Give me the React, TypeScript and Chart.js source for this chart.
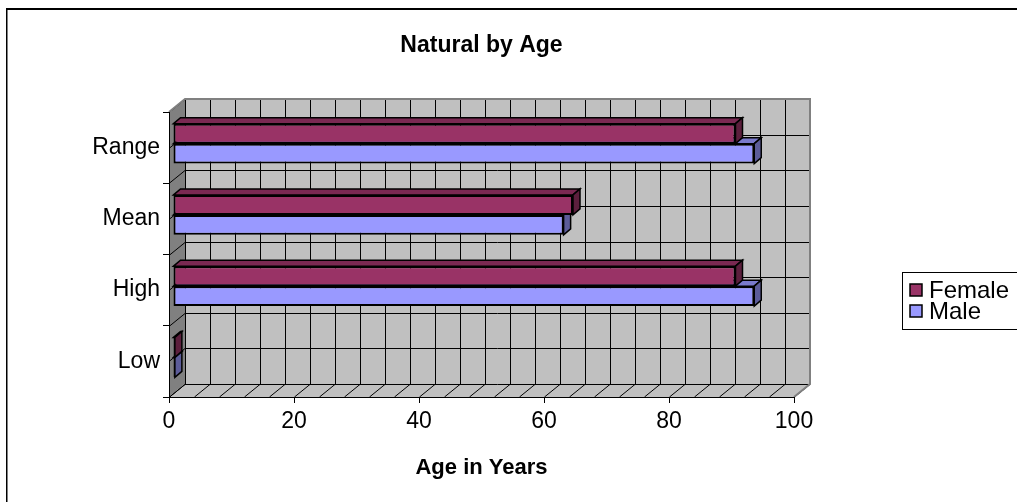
import React, { useEffect, useRef } from "react";
import { Chart, registerables } from "chart.js";

Chart.register(...registerables);

const categories = ["Range", "Mean", "High", "Low"];
const femaleValues = [90, 64, 90, 0.3];
const maleValues = [93, 62.5, 93, 0.3];
const seriesNames = ["Female", "Male"];
const seriesColors = ["#993366", "#9999FF"];
const topColors = ["#7A2952", "#7A7ACC"];
const sideColors = ["#5C1F3D", "#5C5C99"];
const xMin = 0;
const xMax = 100;
const xTickStep = 20;
const gridStep = 4;

const FONT = "'Liberation Sans', Arial, Helvetica, sans-serif";

// wall depth and bar placement inside the depth
const DX = 16;
const DY = -13;
const BX = 4;
const BY = -4;
const BDX = 7;
const BDY = -6;

function poly(ctx: CanvasRenderingContext2D, pts: number[][]) {
  ctx.beginPath();
  ctx.moveTo(pts[0][0], pts[0][1]);
  for (let i = 1; i < pts.length; i++) ctx.lineTo(pts[i][0], pts[i][1]);
  ctx.closePath();
}

function line(ctx: CanvasRenderingContext2D, x1: number, y1: number, x2: number, y2: number) {
  ctx.beginPath();
  ctx.moveTo(x1, y1);
  ctx.lineTo(x2, y2);
  ctx.stroke();
}

const excel3d = {
  id: "excel3d",
  beforeDraw(chart: any) {
    const { ctx, chartArea: a, scales } = chart;
    const xs = scales.x;
    const ys = scales.y;
    ctx.save();
    // outer frame
    ctx.fillStyle = "#000";
    ctx.fillRect(6, 8, 1011, 2);
    ctx.fillRect(6, 8, 1.5, 494);

    // left wall
    ctx.fillStyle = "#808080";
    poly(ctx, [
      [a.left, a.top],
      [a.left + DX, a.top + DY],
      [a.left + DX, a.bottom + DY],
      [a.left, a.bottom],
    ]);
    ctx.fill();
    // floor
    ctx.fillStyle = "#C0C0C0";
    poly(ctx, [
      [a.left, a.bottom],
      [a.left + DX, a.bottom + DY],
      [a.right + DX, a.bottom + DY],
      [a.right, a.bottom],
    ]);
    ctx.fill();
    // back wall
    ctx.fillStyle = "#C0C0C0";
    ctx.fillRect(a.left + DX, a.top + DY, a.right - a.left, a.bottom - a.top);

    ctx.strokeStyle = "#000";
    ctx.lineWidth = 1;
    // vertical gridlines on back wall + floor diagonals
    for (let v = xMin; v <= xMax; v += gridStep) {
      const px = Math.round(xs.getPixelForValue(v)) + 0.5;
      line(ctx, px + DX, a.top + DY, px + DX, a.bottom + DY);
      line(ctx, px, a.bottom, px + DX, a.bottom + DY);
    }
    // horizontal gridlines (every half category) + left wall diagonals
    const band = Math.abs(ys.getPixelForValue(1) - ys.getPixelForValue(0));
    const ypos: number[] = [];
    for (let i = 0; i < categories.length; i++) {
      const c = ys.getPixelForValue(i);
      ypos.push(c - band / 2, c);
    }
    ypos.push(ys.getPixelForValue(categories.length - 1) + band / 2);
    for (const yy of ypos) {
      const py = Math.round(yy) + 0.5;
      line(ctx, a.left + DX, py + DY, a.right + DX, py + DY);
      line(ctx, a.left, py, a.left + DX, py + DY);
    }
    // wall borders (gray)
    ctx.strokeStyle = "#808080";
    ctx.lineWidth = 2;
    ctx.beginPath();
    ctx.moveTo(a.left, a.top);
    ctx.lineTo(a.left + DX, a.top + DY);
    ctx.lineTo(a.right + DX, a.top + DY);
    ctx.lineTo(a.right + DX, a.bottom + DY);
    ctx.lineTo(a.right, a.bottom);
    ctx.stroke();
    ctx.restore();
  },
  beforeDatasetsDraw(chart: any) {
    const { ctx } = chart;
    ctx.save();
    ctx.translate(BX, BY);
    for (let d = chart.data.datasets.length - 1; d >= 0; d--) {
      const meta = chart.getDatasetMeta(d);
      meta.data.forEach((el: any) => {
        const p = el.getProps(["x", "y", "base", "height"], true);
        const left = Math.min(p.base, p.x);
        const right = Math.max(p.base, p.x);
        const top = p.y - p.height / 2;
        const bottom = p.y + p.height / 2;
        ctx.lineWidth = 1.5;
        ctx.strokeStyle = "#000";
        ctx.fillStyle = topColors[d];
        poly(ctx, [
          [left, top],
          [left + BDX, top + BDY],
          [right + BDX, top + BDY],
          [right, top],
        ]);
        ctx.fill();
        ctx.stroke();
        ctx.fillStyle = sideColors[d];
        poly(ctx, [
          [right, top],
          [right + BDX, top + BDY],
          [right + BDX, bottom + BDY],
          [right, bottom],
        ]);
        ctx.fill();
        ctx.stroke();
      });
    }
  },
  afterDatasetsDraw(chart: any) {
    chart.ctx.restore();
  },
  afterDraw(chart: any) {
    const { ctx } = chart;
    ctx.save();
    // legend
    const lx = 902;
    const ly = 272;
    ctx.strokeStyle = "#000";
    ctx.lineWidth = 1;
    ctx.strokeRect(lx + 0.5, ly + 0.5, 200, 57);
    ctx.font = `24px ${FONT}`;
    ctx.textBaseline = "middle";
    ctx.textAlign = "left";
    seriesNames.forEach((name, i) => {
      const cy = 290 + i * 21;
      ctx.fillStyle = seriesColors[i];
      ctx.fillRect(910, cy - 6, 12, 12);
      ctx.lineWidth = 1.5;
      ctx.strokeRect(910, cy - 6, 12, 12);
      ctx.fillStyle = "#000";
      ctx.fillText(name, 929, cy + 1);
    });
    ctx.restore();
  },
};

export default function App() {
  const ref = useRef<HTMLCanvasElement>(null);
  useEffect(() => {
    const canvas = ref.current!;
    Chart.defaults.font.family = FONT;
    Chart.defaults.color = "#000";
    const chart = new Chart(canvas, {
      type: "bar",
      data: {
        labels: categories,
        datasets: seriesNames.map((name, i) => ({
          label: name,
          data: i === 0 ? femaleValues : maleValues,
          backgroundColor: seriesColors[i],
          borderColor: "#000",
          borderWidth: 2,
          borderSkipped: false,
          categoryPercentage: 0.5614,
          barPercentage: 1,
          clip: false as any,
        })),
      },
      options: {
        indexAxis: "y",
        responsive: false,
        maintainAspectRatio: false,
        animation: false,
        devicePixelRatio: 1,
        layout: { padding: { left: 0, right: 223, top: 0, bottom: 0 } },
        plugins: {
          legend: { display: false },
          tooltip: { enabled: false },
          title: {
            display: true,
            text: "Natural by Age",
            fullSize: false,
            color: "#000",
            font: { size: 23, weight: "bold", family: FONT },
            padding: { top: 32, bottom: 52.4 },
          },
        },
        scales: {
          x: {
            type: "linear",
            min: xMin,
            max: xMax,
            ticks: { stepSize: xTickStep, color: "#000", font: { size: 23, family: FONT }, padding: 5 },
            grid: { drawOnChartArea: false, tickLength: 6, color: "#000" },
            border: { color: "#000", width: 1 },
            title: {
              display: true,
              text: "Age in Years",
              color: "#000",
              font: { size: 22, weight: "bold", family: FONT },
              padding: { top: 0, bottom: 21 },
            },
            afterFit: (s: any) => {
              s.height = 105;
            },
          },
          y: {
            type: "category",
            ticks: { color: "#000", font: { size: 23, family: FONT }, padding: 3 },
            grid: { drawOnChartArea: false, tickLength: 6, color: "#000", offset: true },
            border: { color: "#000", width: 1 },
            afterFit: (s: any) => {
              s.width = 169;
            },
          },
        },
      } as any,
      plugins: [excel3d],
    });
    return () => chart.destroy();
  }, []);
  return (
    <div style={{ position: "fixed", left: 0, top: 0, width: 1017, height: 502, background: "#fff" }}>
      <canvas ref={ref} width={1017} height={502} style={{ display: "block", width: 1017, height: 502 }} />
    </div>
  );
}
